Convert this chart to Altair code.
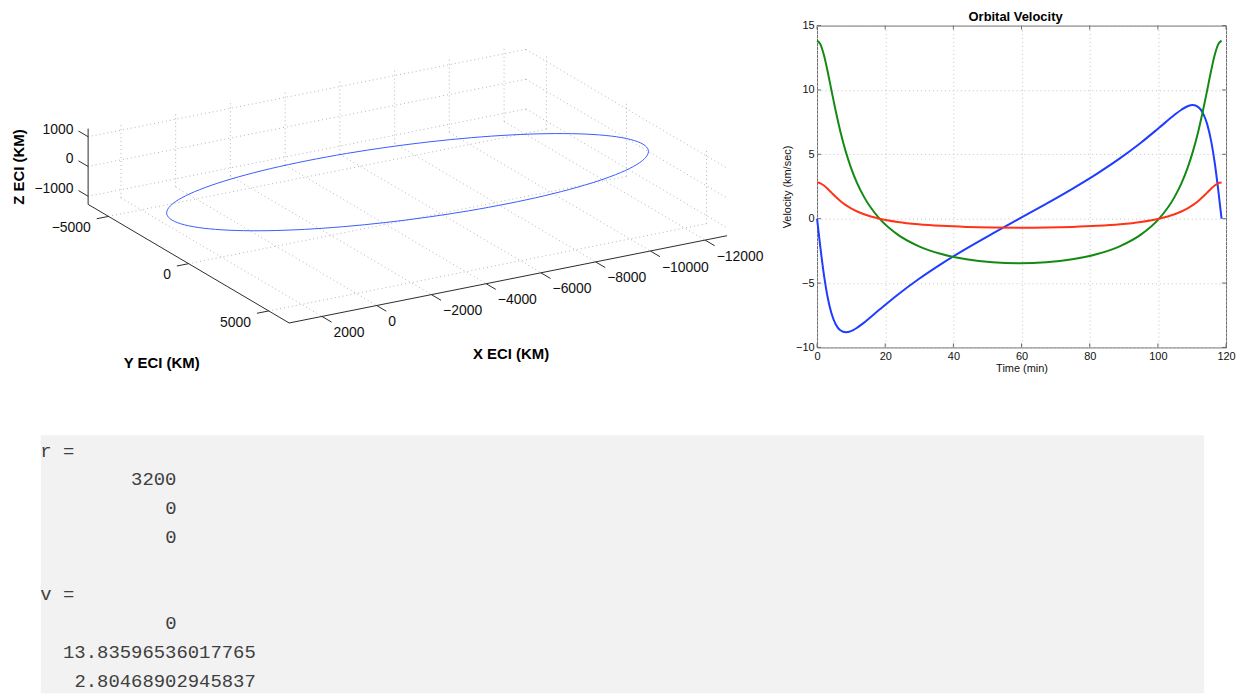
import altair as alt
import pandas as pd

# ---------------- data ----------------
# orbit samples in ECI (km)
orbit_x = [3200, 3078, 2718, 2128, 1328, 342, -800, -2064, -3411, -4800, -6189, -7536,
           -8800, -9942, -10928, -11728, -12318, -12679, -12800, -12679, -12318, -11728,
           -10928, -9942, -8800, -7536, -6189, -4800, -3411, -2064, -800, 342, 1328, 2128,
           2718, 3078]
orbit_y = [0, 1089, 2145, 3136, 4032, 4805, 5432, 5894, 6177, 6273, 6177, 5894, 5432, 4805,
           4032, 3136, 2145, 1089, 0, -1089, -2145, -3136, -4032, -4805, -5432, -5894, -6177,
           -6273, -6177, -5894, -5432, -4805, -4032, -3136, -2145, -1089]
orbit_z = [0, 221, 435, 636, 817, 974, 1101, 1195, 1252, 1272, 1252, 1195, 1101, 974, 817,
           636, 435, 221, 0, -221, -435, -636, -817, -974, -1101, -1195, -1252, -1272, -1252,
           -1195, -1101, -974, -817, -636, -435, -221]

x_lim = [-12800, 3200]
y_lim = [-6273, 6273]
z_lim = [-1272, 1272]
x_ticks = [-12000, -10000, -8000, -6000, -4000, -2000, 0, 2000]
x_tick_labels = ["\u221212000", "\u221210000", "\u22128000", "\u22126000", "\u22124000",
                 "\u22122000", "0", "2000"]
y_ticks = [-5000, 0, 5000]
y_tick_labels = ["\u22125000", "0", "5000"]
z_ticks = [-1000, 0, 1000]
z_tick_labels = ["\u22121000", "0", "1000"]

# velocity components (km/s) vs time (min)
t_min = [0, 0.993, 2.012, 3.081, 4.224, 5.463, 6.822, 8.449, 9.966, 11.782, 13.778, 18.337,
         23.669, 29.746, 36.492, 43.784, 51.463, 59.342, 67.222, 74.901, 82.193, 88.939,
         95.016, 100.348, 104.907, 106.903, 108.719, 110.236, 111.863, 113.222, 114.461,
         115.604, 116.673, 117.692, 118.685]
vel_x = [0, -2.274, -4.345, -6.061, -7.347, -8.201, -8.669, -8.823, -8.733, -8.465, -8.072,
         -7.059, -5.902, -4.702, -3.504, -2.323, -1.157, 0, 1.157, 2.323, 3.504, 4.702, 5.902,
         7.059, 8.072, 8.465, 8.733, 8.823, 8.669, 8.201, 7.347, 6.061, 4.345, 2.274, 0]
vel_y = [13.836, 13.544, 12.715, 11.473, 9.978, 8.380, 6.798, 5.189, 3.953, 2.749, 1.696, 0,
         -1.240, -2.129, -2.748, -3.154, -3.385, -3.459, -3.385, -3.154, -2.748, -2.129,
         -1.240, 0, 1.696, 2.749, 3.953, 5.189, 6.798, 8.380, 9.978, 11.473, 12.715, 13.544,
         13.836]
vel_z = [2.805, 2.746, 2.578, 2.326, 2.023, 1.699, 1.378, 1.052, 0.802, 0.557, 0.344, 0,
         -0.251, -0.432, -0.557, -0.640, -0.686, -0.701, -0.686, -0.640, -0.557, -0.432,
         -0.251, 0, 0.344, 0.557, 0.802, 1.052, 1.378, 1.699, 2.023, 2.326, 2.578, 2.746,
         2.805]
t_ticks = [0, 20, 40, 60, 80, 100, 120]
v_ticks = [-10, -5, 0, 5, 10, 15]

# console output (line number, start column, text)
console_line = [0, 1, 2, 3, 5, 6, 7, 8]
console_col = [0, 8, 11, 11, 0, 11, 2, 3]
console_txt = ["r =", "3200", "0", "0", "v =", "0", "13.83596536017765", "2.80468902945837"]

# ---------------- layout constants ----------------
FONT = "Liberation Sans"
W3 = 802.7                      # left panel width (3-D plot + console)
HL = 671                        # left panel height
WV, HV = 411, 323.4             # velocity panel
OX, OY = 8.0, 23.3              # page offset of the left panel origin

# view projection of the 3-D axes (orthographic)
ORG = (277.5, 245.0)
UX = (-0.0275, 0.00548)
UY = (0.0161, 0.0095)
UZ = (0.0, -0.02992)


def proj(x, y, z):
    dz = z - z_lim[0]
    px = ORG[0] + UX[0] * x + UY[0] * y + UZ[0] * dz
    py = ORG[1] + UX[1] * x + UY[1] * y + UZ[1] * dz
    return px - OX, py - OY


def seg(a, b):
    p, q = proj(*a), proj(*b)
    return {"sx": p[0], "sy": p[1], "sx2": q[0], "sy2": q[1]}


X0, X1 = x_lim
Y0, Y1 = y_lim
Z0, Z1 = z_lim

grid_rows = []
for xt in x_ticks:
    grid_rows.append(seg((xt, Y0, Z0), (xt, Y1, Z0)))
    grid_rows.append(seg((xt, Y0, Z0), (xt, Y0, Z1)))
for yt in y_ticks:
    grid_rows.append(seg((X0, yt, Z0), (X1, yt, Z0)))
    grid_rows.append(seg((X0, yt, Z0), (X0, yt, Z1)))
for zt in z_ticks:
    grid_rows.append(seg((X0, Y0, zt), (X1, Y0, zt)))
    grid_rows.append(seg((X0, Y0, zt), (X0, Y1, zt)))
grid_df = pd.DataFrame(grid_rows)

axis_rows = [seg((X1, Y0, Z0), (X1, Y0, Z1)),
             seg((X1, Y0, Z0), (X1, Y1, Z0)),
             seg((X1, Y1, Z0), (X0, Y1, Z0))]
TICK_Y, TICK_X = 600, 430
lab_rows_left, lab_rows_right = [], []
for xt, lab in zip(x_ticks, x_tick_labels):
    axis_rows.append(seg((xt, Y1, Z0), (xt, Y1 + TICK_Y, Z0)))
    e = proj(xt, Y1 + TICK_Y, Z0)
    lab_rows_left.append({"sx": e[0] + 2, "sy": e[1] + 11, "txt": lab})
for yt, lab in zip(y_ticks, y_tick_labels):
    axis_rows.append(seg((X1, yt, Z0), (X1 + TICK_X, yt, Z0)))
    e = proj(X1 + TICK_X, yt, Z0)
    lab_rows_right.append({"sx": e[0] - 6, "sy": e[1] + 9.5, "txt": lab})
for zt, lab in zip(z_ticks, z_tick_labels):
    axis_rows.append(seg((X1, Y0, zt), (X1, Y0 - TICK_Y, zt)))
    e = proj(X1, Y0 - TICK_Y, zt)
    lab_rows_right.append({"sx": e[0] - 5, "sy": e[1] - 1.5, "txt": lab})
axis_df = pd.DataFrame(axis_rows)
lab_left_df = pd.DataFrame(lab_rows_left)
lab_right_df = pd.DataFrame(lab_rows_right)

ax_x = proj((X0 + X1) / 2, Y1, Z0)
ax_y = proj(X1, 0, Z0)
ax_z = proj(X1, Y0, 0)
title_df = pd.DataFrame([
    {"sx": ax_x[0] + 3, "sy": ax_x[1] + 75, "txt": "X ECI (KM)"},
    {"sx": ax_y[0] - 27, "sy": ax_y[1] + 100, "txt": "Y ECI (KM)"},
])
ztitle_df = pd.DataFrame([{"sx": ax_z[0] - 69, "sy": ax_z[1] + 0.5, "txt": "Z ECI (KM)"}])

orbit_rows = []
for i, (x, y, z) in enumerate(zip(orbit_x, orbit_y, orbit_z)):
    p = proj(x, y, z)
    orbit_rows.append({"sx": p[0], "sy": p[1], "i": i})
orbit_df = pd.DataFrame(orbit_rows)

sx_scale = alt.Scale(domain=[0, W3], nice=False, zero=False)
sy_scale = alt.Scale(domain=[0, HL], nice=False, zero=False, reverse=True)
X = alt.X("sx:Q", scale=sx_scale, axis=None)
Y = alt.Y("sy:Q", scale=sy_scale, axis=None)

grid_layer = alt.Chart(grid_df).mark_rule(color="#b4b4b4", strokeWidth=1,
                                          strokeDash=[1, 3]).encode(
    x=X, y=Y, x2="sx2:Q", y2="sy2:Q")
axis_layer = alt.Chart(axis_df).mark_rule(color="#2b2b2b", strokeWidth=1).encode(
    x=X, y=Y, x2="sx2:Q", y2="sy2:Q")
orbit_layer = alt.Chart(orbit_df).mark_line(color="#3a5cff", strokeWidth=1,
                                            interpolate="cardinal-closed").encode(
    x=X, y=Y, order="i:Q")
lab_left = alt.Chart(lab_left_df).mark_text(align="left", baseline="middle", font=FONT,
                                            fontSize=14, color="#111").encode(
    x=X, y=Y, text="txt:N")
lab_right = alt.Chart(lab_right_df).mark_text(align="right", baseline="middle", font=FONT,
                                              fontSize=14, color="#111").encode(
    x=X, y=Y, text="txt:N")
titles = alt.Chart(title_df).mark_text(align="center", baseline="middle", font=FONT,
                                       fontSize=15, fontWeight="bold", color="#000").encode(
    x=X, y=Y, text="txt:N")
ztitle = alt.Chart(ztitle_df).mark_text(align="center", baseline="middle", font=FONT,
                                        fontSize=15, fontWeight="bold", color="#000",
                                        angle=270).encode(
    x=X, y=Y, text="txt:N")

# ---------------- console text (below the 3-D plot) ----------------
BOX_TOP = 435 - OY             # top of the grey console box in panel pixels
LH = 28.875                    # line pitch
FIRST = 15.5                   # first line centre below the box top
CW = 11.4                      # character width of the mono font
COL0 = 32.5                    # x of column 0 in panel pixels
c0 = -COL0 / CW
l0 = -(BOX_TOP + FIRST) / LH
con_df = pd.DataFrame({"line": console_line, "col": console_col, "txt": console_txt})

bg = alt.Chart(pd.DataFrame({"a": [0]})).mark_rect(color="#f2f2f2").encode(
    x=alt.value(33), x2=alt.value(1202), y=alt.value(BOX_TOP), y2=alt.value(HL))
console = alt.Chart(con_df).mark_text(align="left", baseline="middle",
                                      font="Liberation Mono", fontSize=19,
                                      color="#404040").encode(
    x=alt.X("col:Q", scale=alt.Scale(domain=[c0, c0 + W3 / CW], nice=False, zero=False),
            axis=None),
    y=alt.Y("line:Q", scale=alt.Scale(domain=[l0, l0 + HL / LH], nice=False, zero=False,
                                      reverse=True), axis=None),
    text="txt:N")

left = alt.layer(bg, grid_layer, axis_layer, orbit_layer, lab_left, lab_right, titles,
                 ztitle, console).resolve_scale(x="independent", y="independent").properties(
    width=W3, height=HL, view=alt.ViewBackground(strokeOpacity=0, strokeWidth=0))

# ---------------- velocity chart ----------------
n = len(t_min)
vel_df = pd.DataFrame({
    "t": t_min * 3,
    "v": vel_x + vel_y + vel_z,
    "comp": ["vx"] * n + ["vy"] * n + ["vz"] * n,
})
t_scale = alt.Scale(domain=[0, 120], nice=False, zero=False)
v_scale = alt.Scale(domain=[-10, 15], nice=False, zero=False)
FRAME = "#6a6a6a"
TL = 4  # inward tick length

TX = alt.X("t:Q", scale=t_scale,
           axis=alt.Axis(values=t_ticks, title="Time (min)",
                         grid=True, gridColor="#c4c4c4", gridDash=[1, 3], ticks=False,
                         tickSize=0, domain=False, labelFlush=False, labelFont=FONT,
                         labelFontSize=11, labelColor="#111", labelPadding=3.5,
                         titleFont=FONT, titleFontSize=11, titleFontWeight="normal",
                         titleColor="#111", titlePadding=1))
VY = alt.Y("v:Q", scale=v_scale,
           axis=alt.Axis(values=v_ticks, title="Velocity (km/sec)",
                         grid=True, gridColor="#c4c4c4", gridDash=[1, 3], ticks=False,
                         tickSize=0, domain=False, labelFlush=False, labelFont=FONT,
                         labelFontSize=11, labelColor="#111", labelPadding=3,
                         titleFont=FONT, titleFontSize=11, titleFontWeight="normal",
                         titleColor="#111", titlePadding=3))

lines = alt.Chart(vel_df).mark_line(strokeWidth=2, interpolate="monotone").encode(
    x=TX, y=VY,
    color=alt.Color("comp:N", scale=alt.Scale(domain=["vx", "vy", "vz"],
                                              range=["#1f3cff", "#138a13", "#ff3318"]),
                    legend=None),
)

tdf = pd.DataFrame({"t": t_ticks})
vdf = pd.DataFrame({"v": v_ticks})
tick_b = alt.Chart(tdf).mark_rule(color=FRAME, strokeWidth=1).encode(
    x=TX, y=alt.value(HV), y2=alt.value(HV - TL))
tick_t = alt.Chart(tdf).mark_rule(color=FRAME, strokeWidth=1).encode(
    x=TX, y=alt.value(0), y2=alt.value(TL))
tick_l = alt.Chart(vdf).mark_rule(color=FRAME, strokeWidth=1).encode(
    y=VY, x=alt.value(0), x2=alt.value(TL))
tick_r = alt.Chart(vdf).mark_rule(color=FRAME, strokeWidth=1).encode(
    y=VY, x=alt.value(WV), x2=alt.value(WV - TL))

pvel = alt.layer(lines, tick_b, tick_t, tick_l, tick_r).properties(
    width=WV, height=HV,
    title=alt.TitleParams("Orbital Velocity", font=FONT, fontSize=13, fontWeight="bold",
                          color="#000", offset=1, dx=-6, dy=5.4, anchor="middle"),
    view=alt.ViewBackground(stroke=FRAME, strokeWidth=1),
)

chart = alt.hconcat(left, pvel, spacing=10, bounds="flush").properties(
    padding={"left": 0, "top": 0, "right": 0, "bottom": 0}
).configure(background="white")

chart.save("out.html", embed_options={"renderer": "svg", "actions": False})
